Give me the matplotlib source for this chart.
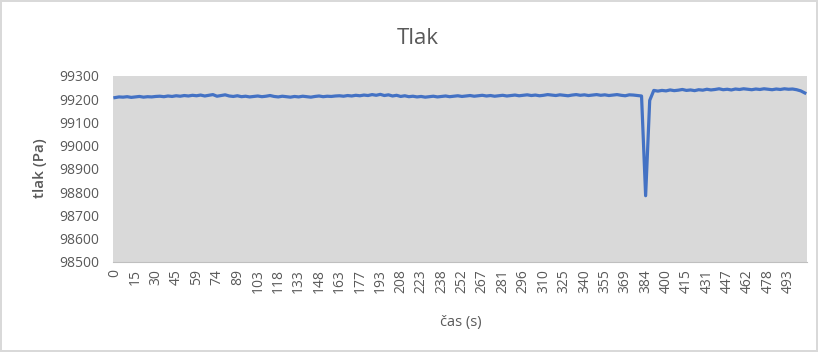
import numpy as np
import matplotlib
matplotlib.use("Agg")
import matplotlib.pyplot as plt

plt.rcParams['font.family'] = ['Open Sans', 'DejaVu Sans']

# category labels shown on the x axis (every 15th sample)
time_labels = [0, 15, 30, 45, 59, 74, 89, 103, 118, 133, 148, 163, 177, 193,
               208, 223, 238, 252, 267, 281, 296, 310, 325, 340, 355, 369,
               384, 400, 415, 431, 447, 462, 478, 493]
label_step = 15       # samples between labels
n_samples = 510       # samples on the category axis
read_step = 3         # pressure every 3rd sample

# pressure (Pa), read every 3rd sample
pressure = [
    99207, 99210, 99209, 99211, 99208, 99210, 99212, 99209, 99211, 99210,
    99212, 99213, 99211, 99214, 99212, 99215, 99213, 99216, 99214, 99217,
    99215, 99218, 99214, 99217, 99220, 99213, 99216, 99219, 99214, 99212,
    99215, 99211, 99213, 99210, 99212, 99214, 99211, 99213, 99216, 99212,
    99210, 99213, 99211, 99209, 99212, 99210, 99213, 99211, 99209, 99212,
    99214, 99211, 99213, 99212, 99214, 99215, 99213, 99216, 99214, 99217,
    99215, 99218, 99216, 99220, 99217, 99221, 99216, 99219, 99214, 99217,
    99212, 99215, 99211, 99213, 99210, 99212, 99209, 99211, 99213, 99210,
    99212, 99214, 99211, 99213, 99215, 99212, 99214, 99216, 99213, 99215,
    99217, 99214, 99216, 99213, 99215, 99217, 99214, 99216, 99218, 99215,
    99217, 99219, 99216, 99218, 99215, 99217, 99220, 99218, 99216, 99219,
    99217, 99215, 99218, 99220, 99217, 99219, 99216, 99218, 99220, 99217,
    99219, 99216, 99218, 99220, 99217, 99215, 99219, 99218, 99216, 99214,
    98785, 99195, 99238,
    99235, 99238, 99236, 99240, 99237, 99239, 99242, 99238, 99240, 99237,
    99241, 99239, 99243, 99240, 99242, 99245, 99241, 99243, 99240, 99244,
    99242, 99245, 99243, 99241, 99244, 99242, 99245,
    99243, 99241, 99244, 99242, 99245, 99243, 99244, 99241, 99236, 99227,
]

y_ticks = [98500, 98600, 98700, 98800, 98900, 99000, 99100, 99200, 99300]

txt = '#595959'
fig = plt.figure(figsize=(8.18, 3.52), dpi=100)
fig.patch.set_facecolor('white')
fig.patch.set_edgecolor('#D9D9D9')
fig.patch.set_linewidth(1.5)

ax = fig.add_axes([0.138, 0.2557, 0.8484, 0.5284])
ax.set_facecolor('#D9D9D9')

x = np.arange(len(pressure)) * read_step
ax.plot(x, pressure, color='#4472C4', lw=2.3, solid_joinstyle='round')

ax.set_xlim(-1.5, n_samples - 1.5)
ax.set_ylim(y_ticks[0], y_ticks[-1])
ax.set_yticks(y_ticks)
ax.set_yticklabels([str(v) for v in y_ticks])
ax.set_xticks(np.arange(len(time_labels)) * label_step)
ax.set_xticklabels([str(v) for v in time_labels], rotation=90)

ax.tick_params(axis='y', length=0, pad=10, labelsize=10, labelcolor=txt)
ax.tick_params(axis='x', length=0, pad=5, labelsize=10, labelcolor=txt)

for s in ['top', 'right', 'left']:
    ax.spines[s].set_visible(False)
ax.spines['bottom'].set_color('#BFBFBF')
ax.spines['bottom'].set_linewidth(0.8)

fig.text(0.511, 0.892, 'Tlak', ha='center', va='center', fontsize=16, color=txt)
fig.text(0.049, 0.522, 'tlak (Pa)', ha='center', va='center', rotation=90,
         fontsize=11, fontweight='semibold', color=txt)
fig.text(0.563, 0.085, 'čas (s)', ha='center', va='center', fontsize=10.5, color=txt)

fig.savefig('out.png', dpi=100, facecolor=fig.get_facecolor(),
            edgecolor=fig.get_edgecolor())
